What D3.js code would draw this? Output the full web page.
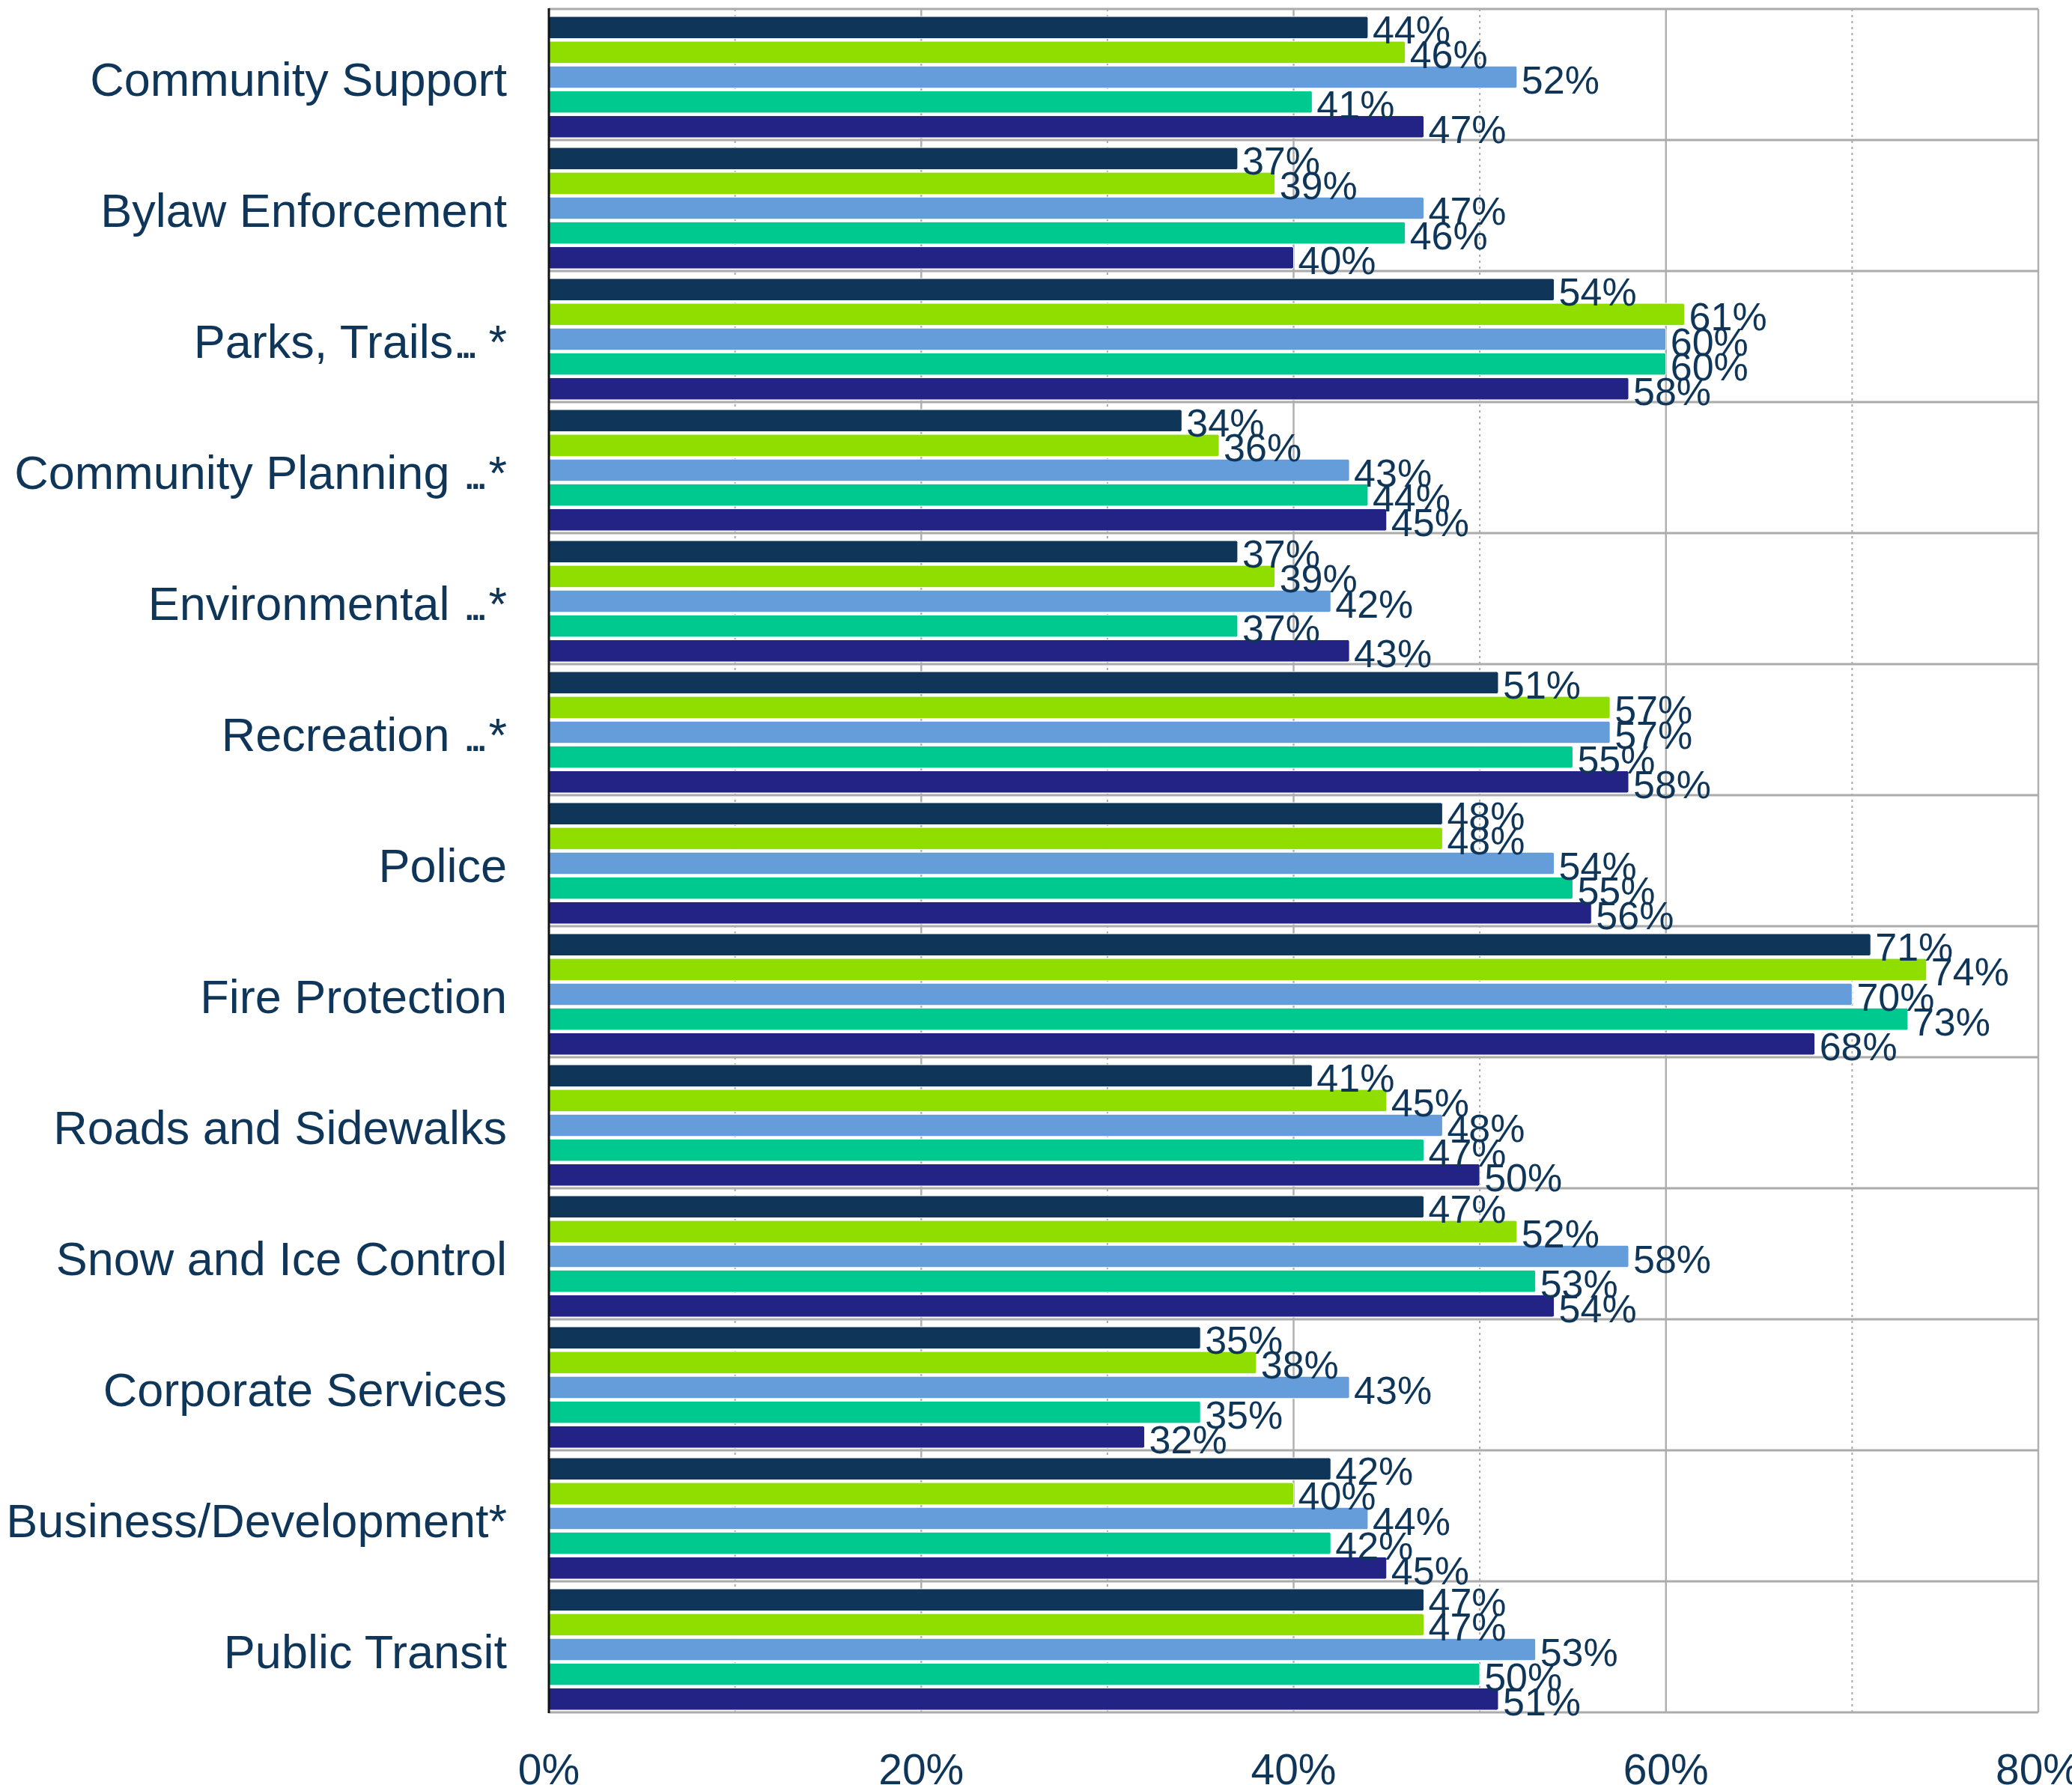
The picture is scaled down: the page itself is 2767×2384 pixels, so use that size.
<!DOCTYPE html>
<html>
<head>
<meta charset="utf-8">
<script src="https://cdn.jsdelivr.net/npm/d3@7"></script>
<style>
  html, body { margin: 0; padding: 0; background: #ffffff; }
  svg { display: block; }
</style>
</head>
<body>
<script>
const categories = [
  "Community Support",
  "Bylaw Enforcement",
  "Parks, Trails... *",
  "Community Planning ...*",
  "Environmental ...*",
  "Recreation ...*",
  "Police",
  "Fire Protection",
  "Roads and Sidewalks",
  "Snow and Ice Control",
  "Corporate Services",
  "Business/Development*",
  "Public Transit"
];
const seriesNames = ["S1", "S2", "S3", "S4", "S5"];
const series1 = [44, 37, 54, 34, 37, 51, 48, 71, 41, 47, 35, 42, 47];
const series2 = [46, 39, 61, 36, 39, 57, 48, 74, 45, 52, 38, 40, 47];
const series3 = [52, 47, 60, 43, 42, 57, 54, 70, 48, 58, 43, 44, 53];
const series4 = [41, 46, 60, 44, 37, 55, 55, 73, 47, 53, 35, 42, 50];
const series5 = [47, 40, 58, 45, 43, 58, 56, 68, 50, 54, 32, 45, 51];
const seriesValues = [series1, series2, series3, series4, series5];
const seriesColors = ["#0f3659", "#8fde00", "#659cda", "#00c98f", "#222385"];
const tickValues = [0, 20, 40, 60, 80];
const minorTickValues = [10, 30, 50, 70];
const tickLabels = ["0%", "20%", "40%", "60%", "80%"];

const W = 2767, H = 2384;
const plotLeft = 733, plotRight = 2722, plotTop = 12, plotBottom = 2287;
const textColor = "#0f3659";
const font = "'Liberation Sans', Arial, Helvetica, sans-serif";

const svg = d3.select("body").append("svg")
  .attr("width", W).attr("height", H)
  .attr("viewBox", `0 0 ${W} ${H}`);

const x = d3.scaleLinear().domain([0, 80]).range([plotLeft, plotRight]);
const y = d3.scaleBand().domain(categories).range([plotTop, plotBottom]).padding(0);
const ySub = d3.scaleBand().domain(seriesNames).range([10, 172]).paddingInner(0.106).paddingOuter(0);

// minor gridlines (dotted)
svg.append("g").selectAll("line").data(minorTickValues).join("line")
  .attr("x1", d => x(d)).attr("x2", d => x(d))
  .attr("y1", plotTop).attr("y2", plotBottom)
  .attr("stroke", "#aaaaaa").attr("stroke-width", 2)
  .attr("stroke-dasharray", "3,5");

// major gridlines (solid)
svg.append("g").selectAll("line").data(tickValues.slice(1)).join("line")
  .attr("x1", d => x(d)).attr("x2", d => x(d))
  .attr("y1", plotTop).attr("y2", plotBottom)
  .attr("stroke", "#b0b0b0").attr("stroke-width", 2.5);

// category separators
const seps = categories.map(c => y(c)).concat([plotBottom]);
svg.append("g").selectAll("line").data(seps).join("line")
  .attr("x1", plotLeft).attr("x2", plotRight)
  .attr("y1", d => d).attr("y2", d => d)
  .attr("stroke", "#ababab").attr("stroke-width", 3);

// bars
const rows = [];
categories.forEach((c, ci) => {
  seriesNames.forEach((s, si) => {
    rows.push({cat: c, ser: s, si: si, v: seriesValues[si][ci]});
  });
});

svg.append("g").selectAll("rect").data(rows).join("rect")
  .attr("x", x(0))
  .attr("y", d => y(d.cat) + ySub(d.ser))
  .attr("width", d => x(d.v) - x(0))
  .attr("height", ySub.bandwidth())
  .attr("rx", 2.5)
  .attr("fill", d => seriesColors[d.si])
  .attr("stroke", "#ffffff").attr("stroke-width", 1);

// left axis line
svg.append("line")
  .attr("x1", plotLeft).attr("x2", plotLeft).attr("y1", plotTop - 1).attr("y2", plotBottom + 1)
  .attr("stroke", "#111111").attr("stroke-width", 3);

// value labels
svg.append("g").selectAll("text").data(rows).join("text")
  .attr("x", d => x(d.v) + 6)
  .attr("y", d => y(d.cat) + ySub(d.ser) + ySub.bandwidth() / 2 + 21.5)
  .attr("font-family", font).attr("font-size", 52)
  .attr("fill", textColor)
  .text(d => d.v + "%");

// category labels (dots set tighter, as in the original typeface)
const catText = svg.append("g").selectAll("text").data(categories).join("text")
  .attr("x", 677)
  .attr("y", d => y(d) + y.bandwidth() / 2 + 28)
  .attr("text-anchor", "end")
  .attr("font-family", font).attr("font-size", 63)
  .attr("fill", textColor);

catText.each(function(d) {
  const t = d3.select(this);
  const parts = d.split("...");
  if (parts.length === 1) { t.text(d); return; }
  t.append("tspan").text(parts[0].replace(/ $/, "\u00a0"));
  t.append("tspan").attr("letter-spacing", -9).text("...");
  t.append("tspan").attr("dx", 9).text(parts[1].replace(/^ /, "\u2009"));
});

// x tick labels
svg.append("g").selectAll("text").data(tickValues).join("text")
  .attr("x", d => x(d))
  .attr("y", 2383)
  .attr("text-anchor", "middle")
  .attr("font-family", font).attr("font-size", 57)
  .attr("fill", textColor)
  .text((d, i) => tickLabels[i]);
</script>
</body>
</html>
